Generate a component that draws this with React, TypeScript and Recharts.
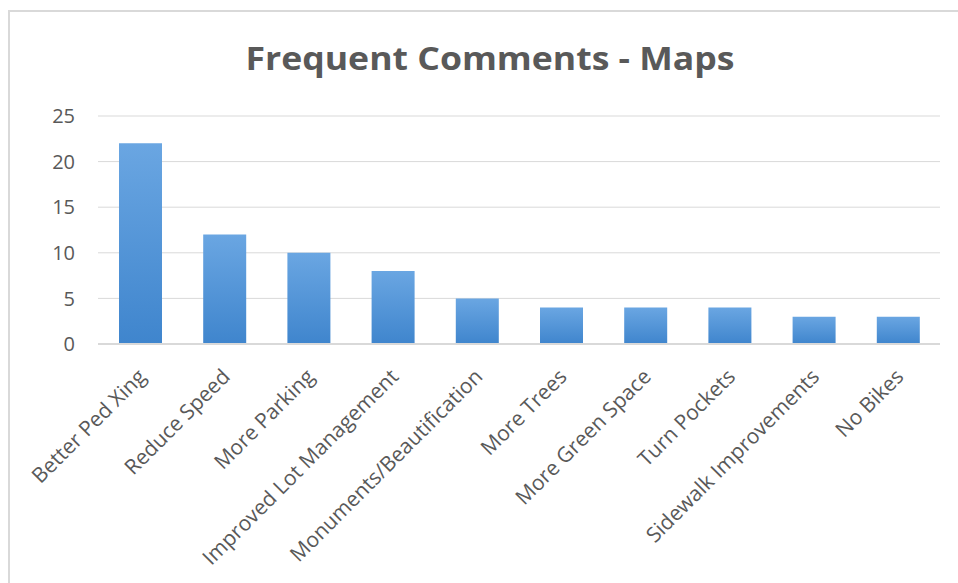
import { Bar, BarChart, CartesianGrid, XAxis, YAxis } from 'recharts';

const CATEGORIES = [
  'Better Ped Xing',
  'Reduce Speed',
  'More Parking',
  'Improved Lot Management',
  'Monuments/Beautification',
  'More Trees',
  'More Green Space',
  'Turn Pockets',
  'Sidewalk Improvements',
  'No Bikes',
];
const COUNTS = [22, 12, 10, 8, 5, 4, 4, 4, 3, 3];
const Y_TICKS = [0, 5, 10, 15, 20, 25];
const TITLE = 'Frequent Comments - Maps';

const TEXT = '#595959';
const GRID = '#d9d9d9';
const FONT = '"Open Sans", sans-serif';

const data = CATEGORIES.map((name, i) => ({ name, value: COUNTS[i] }));

function AngledTick({ x, y, payload }: any) {
  return (
    <g transform={`translate(${x + 7},${y + 26})`}>
      <text
        x={0}
        y={0}
        textAnchor="end"
        transform="rotate(-45)"
        fill={TEXT}
        fontSize={21}
        fontFamily={FONT}
      >
        {payload.value}
      </text>
    </g>
  );
}

export default function App() {
  return (
    <div
      style={{
        position: 'fixed',
        left: 0,
        top: 0,
        width: 958,
        height: 583,
        overflow: 'hidden',
        background: '#fff',
      }}
    >
      {/* frame (only top and left edges are in view) and title */}
      <svg width={958} height={583} style={{ position: 'absolute', left: 0, top: 0 }}>
        <path d="M9 583 V11 H958" fill="none" stroke={GRID} strokeWidth={2} />
        <text
          x={490}
          y={70}
          textAnchor="middle"
          fill={TEXT}
          fontSize={32}
          fontWeight="bold"
          fontFamily={FONT}
          textLength={489}
          lengthAdjust="spacingAndGlyphs"
        >
          {TITLE}
        </text>
      </svg>
      <div style={{ position: 'absolute', left: 0, top: 0 }}>
        <BarChart
          width={958}
          height={583}
          data={data}
          margin={{ top: 116, right: 18, bottom: 39, left: 0 }}
        >
          <defs>
            <linearGradient id="barFill" x1="0" y1="0" x2="0" y2="1">
              <stop offset="0%" stopColor="#6aa6e2" />
              <stop offset="100%" stopColor="#3f85cd" />
            </linearGradient>
          </defs>
          <CartesianGrid vertical={false} stroke={GRID} strokeWidth={1} />
          <XAxis
            dataKey="name"
            interval={0}
            height={200}
            tickLine={false}
            axisLine={{ stroke: GRID, strokeWidth: 2 }}
            tick={<AngledTick />}
          />
          <YAxis
            width={98}
            domain={[0, 25]}
            ticks={Y_TICKS}
            axisLine={false}
            tickLine={false}
            tickSize={0}
            tickMargin={23}
            tick={{ fill: TEXT, fontSize: 20, fontFamily: FONT }}
          />
          <Bar dataKey="value" fill="url(#barFill)" barSize={43} isAnimationActive={false} />
        </BarChart>
      </div>
    </div>
  );
}
